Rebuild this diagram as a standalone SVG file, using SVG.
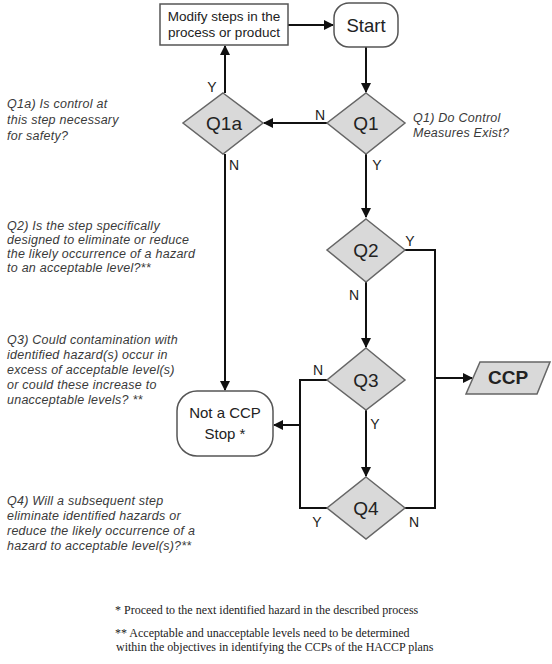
<svg xmlns="http://www.w3.org/2000/svg" width="552" height="664" viewBox="0 0 552 664">
  <style>
    .box { fill: #ffffff; stroke: #555555; stroke-width: 1.5; }
    .dia { fill: #d9d9d9; stroke: #666666; stroke-width: 1.5; }
    .lbl { font-family: "Liberation Sans", Arial, sans-serif; fill: #222222; text-anchor: middle; }
    .yn { font-family: "Liberation Sans", Arial, sans-serif; font-size: 14px; fill: #222222; text-anchor: middle; }
    .q { font-family: "Liberation Sans", Arial, sans-serif; font-size: 12.5px; letter-spacing: 0.25px; font-style: italic; fill: #3a3a3a; }
    .note { font-family: "Liberation Serif", "Times New Roman", serif; font-size: 12px; fill: #222222; }
    .wire { fill: none; stroke: #111111; stroke-width: 2; }
  </style>
  <defs>
    <marker id="arrow" markerWidth="10" markerHeight="10" refX="9" refY="5" orient="auto" markerUnits="userSpaceOnUse">
      <path d="M0,0 L10,5 L0,10 z" fill="#111111"/>
    </marker>
  </defs>

  <!-- connectors -->
  <g id="connectors">
    <path class="wire" d="M288,25 L333,25" marker-end="url(#arrow)"/>
    <path class="wire" d="M366,47 L366,92" marker-end="url(#arrow)"/>
    <path class="wire" d="M327,123 L264,123" marker-end="url(#arrow)"/>
    <path class="wire" d="M225,93 L225,46" marker-end="url(#arrow)"/>
    <path class="wire" d="M225,154 L225,390" marker-end="url(#arrow)"/>
    <path class="wire" d="M366,154 L366,217" marker-end="url(#arrow)"/>
    <path class="wire" d="M405,250 L435,250 L435,508 L405,508"/>
    <path class="wire" d="M435,378 L472,378" marker-end="url(#arrow)"/>
    <path class="wire" d="M366,282 L366,347" marker-end="url(#arrow)"/>
    <path class="wire" d="M327,380 L300,380 L300,508 L327,508"/>
    <path class="wire" d="M300,425 L274,425" marker-end="url(#arrow)"/>
    <path class="wire" d="M366,410 L366,476" marker-end="url(#arrow)"/>
    <text class="yn" x="212" y="92">Y</text>
    <text class="yn" x="320" y="120">N</text>
    <text class="yn" x="234" y="170">N</text>
    <text class="yn" x="377" y="170">Y</text>
    <text class="yn" x="410" y="246">Y</text>
    <text class="yn" x="354" y="300">N</text>
    <text class="yn" x="318" y="375">N</text>
    <text class="yn" x="375" y="429">Y</text>
    <text class="yn" x="317" y="527">Y</text>
    <text class="yn" x="414" y="527">N</text>
  </g>

  <g id="modify">
    <rect class="box" x="160" y="4" width="128" height="41"/>
    <text class="lbl" x="224" y="21" font-size="13.5">Modify steps in the</text>
    <text class="lbl" x="224" y="37" font-size="13.5">process or product</text>
  </g>

  <g id="start">
    <rect class="box" x="334" y="3" width="64" height="44" rx="15" ry="15"/>
    <text class="lbl" x="366" y="32" font-size="18.5">Start</text>
  </g>

  <g id="q1">
    <polygon class="dia" points="366,93 405,123 366,154 327,123"/>
    <text class="lbl" x="366" y="130" font-size="19">Q1</text>
  </g>

  <g id="q1a">
    <polygon class="dia" points="223,93 263,123 223,154 183,123"/>
    <text class="lbl" x="224" y="130" font-size="19">Q1a</text>
  </g>

  <g id="q2">
    <polygon class="dia" points="366,219 405,250 366,282 327,250"/>
    <text class="lbl" x="366" y="257" font-size="19">Q2</text>
  </g>

  <g id="q3">
    <polygon class="dia" points="366,348 405,380 366,410 327,380"/>
    <text class="lbl" x="366" y="387" font-size="19">Q3</text>
  </g>

  <g id="q4">
    <polygon class="dia" points="366,477 405,508 366,539 327,508"/>
    <text class="lbl" x="366" y="515" font-size="19">Q4</text>
  </g>

  <g id="not-ccp">
    <rect class="box" x="177" y="391" width="96" height="65" rx="20" ry="20"/>
    <text class="lbl" x="225" y="418" font-size="15">Not a CCP</text>
    <text class="lbl" x="225" y="439" font-size="15">Stop *</text>
  </g>

  <g id="ccp">
    <polygon class="dia" points="480,362 550,362 537,394 466,394"/>
    <text class="lbl" x="508" y="384" font-size="19" font-weight="bold">CCP</text>
  </g>

  <!-- question texts -->
  <g id="question-q1">
    <text class="q" x="413" y="122">Q1) Do Control</text>
    <text class="q" x="413" y="137">Measures Exist?</text>
  </g>
  <g id="question-q1a">
    <text class="q" x="7" y="108">Q1a) Is control at</text>
    <text class="q" x="7" y="124">this step necessary</text>
    <text class="q" x="7" y="140">for safety?</text>
  </g>
  <g id="question-q2">
    <text class="q" x="7" y="230">Q2) Is the step specifically</text>
    <text class="q" x="7" y="244">designed to eliminate or reduce</text>
    <text class="q" x="7" y="258">the likely occurrence of a hazard</text>
    <text class="q" x="7" y="272">to an acceptable level?**</text>
  </g>
  <g id="question-q3">
    <text class="q" x="7" y="344">Q3) Could contamination with</text>
    <text class="q" x="7" y="359">identified hazard(s) occur in</text>
    <text class="q" x="7" y="374">excess of acceptable level(s)</text>
    <text class="q" x="7" y="389">or could these increase to</text>
    <text class="q" x="7" y="404">unacceptable levels? **</text>
  </g>
  <g id="question-q4">
    <text class="q" x="7" y="505">Q4) Will a subsequent step</text>
    <text class="q" x="7" y="520">eliminate identified hazards or</text>
    <text class="q" x="7" y="535">reduce the likely occurrence of a</text>
    <text class="q" x="7" y="550">hazard to acceptable level(s)?**</text>
  </g>

  <!-- footnotes -->
  <g id="notes">
    <text class="note" x="115" y="614">* Proceed to the next identified hazard in the described process</text>
    <text class="note" x="115" y="637">** Acceptable and unacceptable levels need to be determined</text>
    <text class="note" x="116" y="651">within the objectives in identifying the CCPs of the HACCP plans</text>
  </g>
</svg>
